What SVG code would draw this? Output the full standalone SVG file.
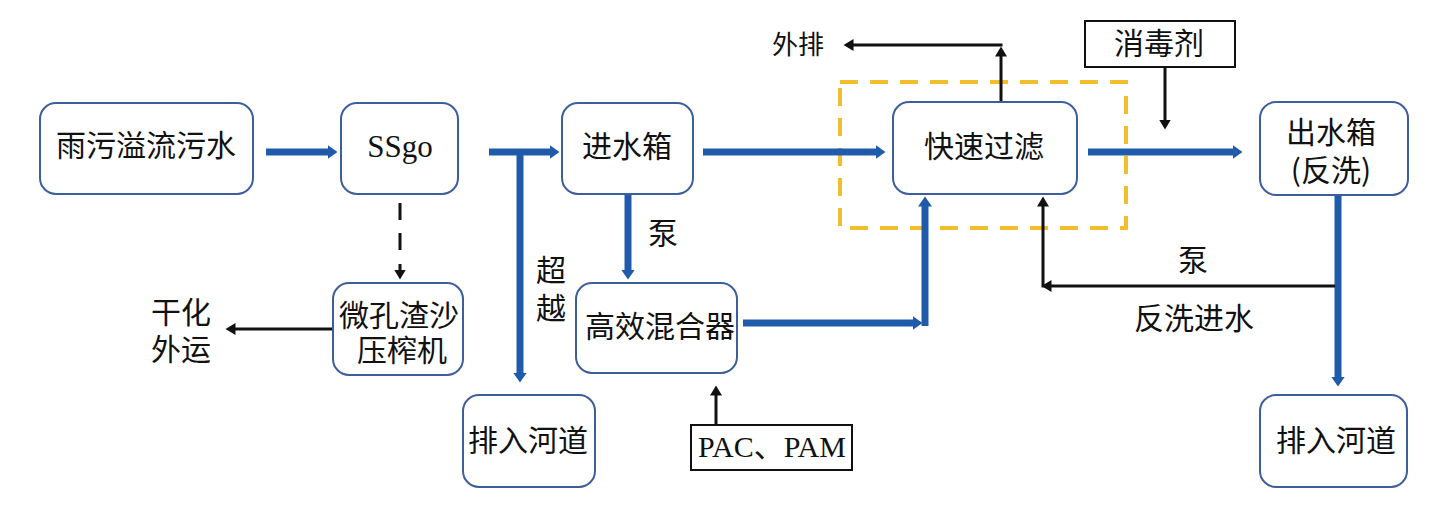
<svg xmlns="http://www.w3.org/2000/svg" width="1440" height="508" viewBox="0 0 1440 508">
<style>
.box{fill:#fff;stroke:#3D5E9C;stroke-width:2}
.sq{fill:#fff;stroke:#111;stroke-width:2}
.t{font-family:"Noto Sans CJK SC","Noto Sans",sans-serif;font-size:30px;fill:#111;text-anchor:middle}
.s{font-family:"Liberation Serif","Noto Sans CJK SC",serif;font-size:31px;fill:#111;text-anchor:middle}
.bl{fill:none;stroke:#1F5BAA;stroke-width:7}
.bk{fill:none;stroke:#111;stroke-width:3}
</style>
<defs>
<marker id="ab" markerUnits="userSpaceOnUse" markerWidth="11" markerHeight="14" refX="0.5" refY="7" orient="auto">
<path d="M0,0 L10,7 L0,14 z" fill="#1F5BAA"/>
</marker>
<marker id="ak" markerUnits="userSpaceOnUse" markerWidth="11" markerHeight="12" refX="0.5" refY="6" orient="auto">
<path d="M0,0 L10,6 L0,12 z" fill="#111"/>
</marker>
</defs>
<rect width="1440" height="508" fill="#fff"/>
<g id="filter-zone">
<rect x="840" y="82" width="286" height="146" fill="none" stroke="#F2BE2C" stroke-width="4" stroke-dasharray="18 12"/>
</g>
<g id="connectors">
<path class="bl" d="M266,152 H328" marker-end="url(#ab)"/>
<path class="bl" d="M489,152 H550" marker-end="url(#ab)"/>
<path class="bl" d="M520,152 V373" marker-end="url(#ab)"/>
<path class="bl" d="M703,152 H876" marker-end="url(#ab)"/>
<path class="bl" d="M628,194 V270" marker-end="url(#ab)"/>
<path class="bl" d="M743,323 H913" marker-end="url(#ab)"/>
<path class="bl" d="M925,326 V206" marker-end="url(#ab)"/>
<path class="bl" d="M1088,152 H1233" marker-end="url(#ab)"/>
<path class="bl" d="M1338,195 V377" marker-end="url(#ab)"/>
<path class="bk" d="M400,203 V252" stroke-dasharray="17 13"/>
<path class="bk" d="M400,264 V270" marker-end="url(#ak)"/>
<path class="bk" d="M333,329 H235" marker-end="url(#ak)"/>
<path class="bk" d="M1001,102 V56" marker-end="url(#ak)"/>
<path class="bk" d="M1002.5,45 H853" marker-end="url(#ak)"/>
<path class="bk" d="M1165,67 V120" marker-end="url(#ak)"/>
<path class="bk" d="M1335,286 H1051" marker-end="url(#ak)"/>
<path class="bk" d="M1043,287.5 V206" marker-end="url(#ak)"/>
<path class="bk" d="M716,425 V395" marker-end="url(#ak)"/>
</g>
<g id="labels">
<text class="t" x="663" y="244">泵</text>
<text class="t" x="551" y="281">超</text>
<text class="t" x="551" y="319">越</text>
<text class="t" x="181" y="323">干化</text>
<text class="t" x="181" y="360">外运</text>
<text class="t" x="798" y="54" style="font-size:26px">外排</text>
<text class="t" x="1193" y="271">泵</text>
<text class="t" x="1194" y="329">反洗进水</text>
</g>
<g id="n-inflow"><rect class="box" x="40" y="103" width="213" height="91" rx="16"/><text class="t" x="146" y="156">雨污溢流污水</text></g>
<g id="n-ssgo"><rect class="box" x="341" y="103" width="117" height="91" rx="16"/><text class="s" x="400" y="157">SSgo</text></g>
<g id="n-inlet-tank"><rect class="box" x="562" y="103" width="131" height="91" rx="16"/><text class="t" x="627" y="157">进水箱</text></g>
<g id="n-fast-filter"><rect class="box" x="893" y="102" width="184" height="92" rx="16"/><text class="t" x="984" y="157">快速过滤</text></g>
<g id="n-outlet-tank"><rect class="box" x="1260" y="102" width="148" height="93" rx="16"/><text class="t" x="1331" y="143">出水箱</text><text class="t" x="1331" y="181">(反洗)</text></g>
<g id="n-press"><rect class="box" x="333" y="283" width="130" height="92" rx="16"/><text class="t" x="399" y="326">微孔渣沙</text><text class="t" x="402" y="361">压榨机</text></g>
<g id="n-mixer"><rect class="box" x="576" y="283" width="161" height="90" rx="16"/><text class="t" x="660" y="337">高效混合器</text></g>
<g id="n-river-left"><rect class="box" x="463" y="395" width="132" height="92" rx="16"/><text class="t" x="528" y="451">排入河道</text></g>
<g id="n-river-right"><rect class="box" x="1260" y="395" width="147" height="92" rx="16"/><text class="t" x="1336" y="451">排入河道</text></g>
<g id="n-pac"><rect class="sq" x="691" y="425" width="161" height="45"/><text class="s" x="772" y="457" style="font-size:30px">PAC、PAM</text></g>
<g id="n-disinfect"><rect class="sq" x="1085" y="21" width="150" height="46"/><text class="t" x="1159" y="54">消毒剂</text></g>
</svg>
